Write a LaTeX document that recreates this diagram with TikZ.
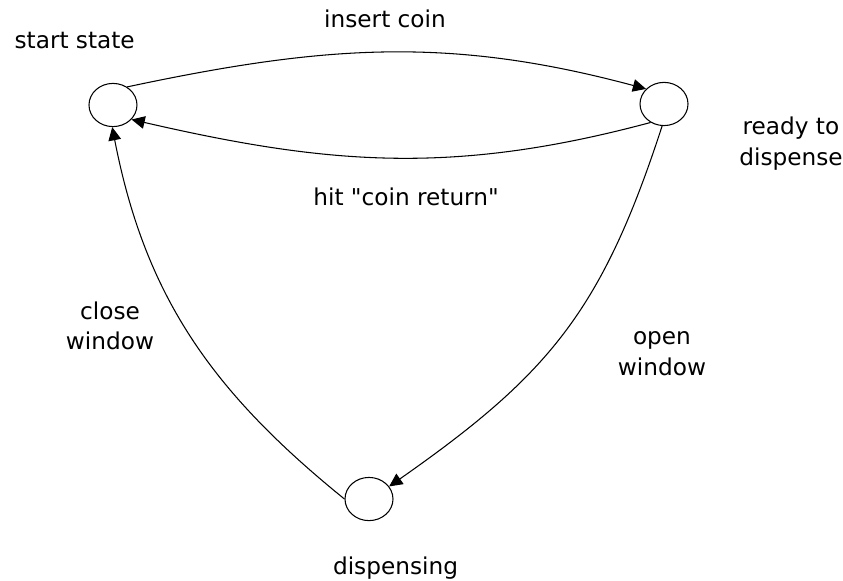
\documentclass[tikz,border=0pt]{standalone}
\usepackage{fontspec}
\setmainfont{DejaVu Sans}[Ligatures=TeXOff]
\usetikzlibrary{arrows.meta,shapes.geometric}
\begin{document}
\begin{tikzpicture}[
    state/.style={draw, ellipse, line width=0.5pt, minimum width=0.8cm, minimum height=0.72cm, inner sep=0pt},
    trans/.style={line width=0.5pt, -{Triangle[length=0.22cm, width=0.21cm]}},
    lbl/.style={font=\fontsize{11}{14.5}\selectfont, align=center, anchor=base, inner sep=0pt}]
    \useasboundingbox (0, 0) rectangle (14.05, -9.683);
    \node[state] (start) at (1.883, -1.75) {};
    \node[state] (ready) at (11.067, -1.733) {};
    \node[state] (disp) at (6.15, -8.317) {};
    \draw[trans] (start.52) to[out=12, in=165] (ready.140);
    \draw[trans] (ready.234) to[out=195, in=-13] (start.322);
    \draw[trans] (ready.265) to[out=252, in=35, looseness=1.1] (disp.32);
    \draw[trans] (disp.180) to[out=141, in=281] (start.268);
    \node[lbl] (startlbl) at (1.245, -0.805) {start state};
    \node[lbl] (insertlbl) at (6.417, -0.458) {insert coin};
    \node[lbl] (returnlbl) at (6.767, -3.417) {hit "coin return"};
    \node[lbl] (readylbl) at (13.183, -2.75) {ready to\\dispense};
    \node[lbl] (closelbl) at (1.833, -5.833) {close\\window};
    \node[lbl] (openlbl) at (11.033, -6.25) {open\\window};
    \node[lbl] (displbl) at (6.592, -9.583) {dispensing};
\end{tikzpicture}
\end{document}
